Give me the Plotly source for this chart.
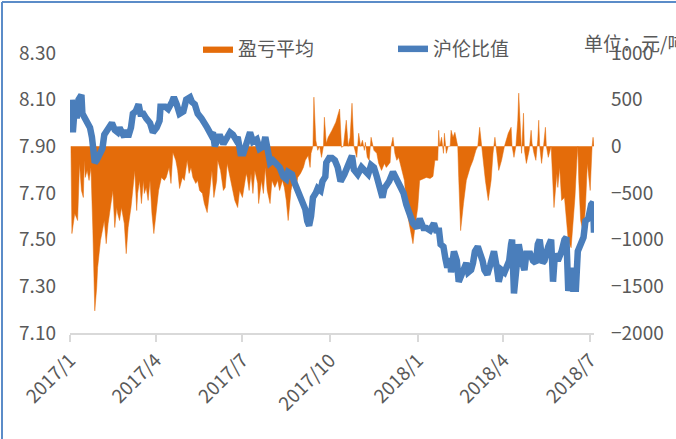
import plotly.graph_objects as go

# ---- data: 沪伦比值 (left axis) ----
ratio_dates = [
    "2017-01-03", "2017-01-04", "2017-01-06", "2017-01-08", "2017-01-10", "2017-01-13", "2017-01-14",
    "2017-01-17", "2017-01-20", "2017-01-22", "2017-01-24", "2017-01-27", "2017-01-29", "2017-02-01",
    "2017-02-04", "2017-02-06", "2017-02-08", "2017-02-12", "2017-02-14", "2017-02-17", "2017-02-20",
    "2017-02-22", "2017-02-25", "2017-02-27", "2017-03-01", "2017-03-03", "2017-03-06", "2017-03-08",
    "2017-03-11", "2017-03-14", "2017-03-16", "2017-03-19", "2017-03-22", "2017-03-26", "2017-03-29",
    "2017-04-02", "2017-04-05", "2017-04-06", "2017-04-11", "2017-04-14", "2017-04-18", "2017-04-20",
    "2017-04-23", "2017-04-26", "2017-04-30", "2017-05-03", "2017-05-07", "2017-05-09", "2017-05-12",
    "2017-05-15", "2017-05-19", "2017-05-23", "2017-05-25", "2017-05-29", "2017-05-31", "2017-06-02",
    "2017-06-05", "2017-06-07", "2017-06-11", "2017-06-14", "2017-06-18", "2017-06-21", "2017-06-24",
    "2017-06-26", "2017-06-29", "2017-07-02", "2017-07-04", "2017-07-07", "2017-07-09", "2017-07-12",
    "2017-07-16", "2017-07-19", "2017-07-23", "2017-07-25", "2017-07-27", "2017-07-30", "2017-08-02",
    "2017-08-06", "2017-08-09", "2017-08-13", "2017-08-16", "2017-08-18", "2017-08-22", "2017-08-24",
    "2017-08-27", "2017-08-30", "2017-09-03", "2017-09-05", "2017-09-07", "2017-09-09", "2017-09-11",
    "2017-09-13", "2017-09-16", "2017-09-18", "2017-09-21", "2017-09-23", "2017-09-26", "2017-09-27",
    "2017-09-30", "2017-10-03", "2017-10-06", "2017-10-09", "2017-10-12", "2017-10-16", "2017-10-22",
    "2017-10-24", "2017-10-26", "2017-10-30", "2017-11-03", "2017-11-06", "2017-11-10", "2017-11-13",
    "2017-11-16", "2017-11-19", "2017-11-22", "2017-11-25", "2017-11-27", "2017-12-02", "2017-12-06",
    "2017-12-10", "2017-12-13", "2017-12-17", "2017-12-20", "2017-12-24", "2017-12-27", "2017-12-31",
    "2018-01-03", "2018-01-07", "2018-01-10", "2018-01-14", "2018-01-16", "2018-01-18", "2018-01-21",
    "2018-01-23", "2018-01-25", "2018-01-28", "2018-01-30", "2018-02-01", "2018-02-04", "2018-02-05",
    "2018-02-08", "2018-02-11", "2018-02-13", "2018-02-16", "2018-02-19", "2018-02-21", "2018-02-23",
    "2018-02-26", "2018-02-28", "2018-03-02", "2018-03-05", "2018-03-07", "2018-03-10", "2018-03-12",
    "2018-03-15", "2018-03-18", "2018-03-20", "2018-03-22", "2018-03-25", "2018-03-27", "2018-03-30",
    "2018-04-02", "2018-04-04", "2018-04-07", "2018-04-09", "2018-04-10", "2018-04-12", "2018-04-15",
    "2018-04-17", "2018-04-20", "2018-04-23", "2018-04-25", "2018-04-29", "2018-05-02", "2018-05-05",
    "2018-05-07", "2018-05-09", "2018-05-12", "2018-05-14", "2018-05-18", "2018-05-21", "2018-05-23",
    "2018-05-25", "2018-05-28", "2018-06-01", "2018-06-04", "2018-06-06", "2018-06-08", "2018-06-11",
    "2018-06-13", "2018-06-16", "2018-06-18", "2018-06-21", "2018-06-24", "2018-06-26", "2018-06-29",
    "2018-07-02", "2018-07-04", "2018-07-05",
]
ratio_values = [
    8.10, 7.96, 8.07, 8.02, 8.10, 8.12, 8.04,
    8.02, 8.00, 7.98, 7.94, 7.83, 7.84, 7.86,
    7.89, 7.95, 7.96, 7.98, 8.00, 7.97, 7.96,
    7.98, 7.95, 7.94, 7.97, 7.94, 7.98, 8.04,
    8.05, 8.08, 8.04, 8.04, 8.02, 8.00, 7.96,
    7.98, 8.01, 8.07, 8.07, 8.06, 8.09, 8.11,
    8.08, 8.04, 8.05, 8.10, 8.11, 8.09, 8.08,
    8.04, 8.02, 8.00, 7.98, 7.95, 7.96, 7.90,
    7.93, 7.95, 7.91, 7.93, 7.96, 7.95, 7.93,
    7.94, 7.87, 7.87, 7.90, 7.95, 7.96, 7.92,
    7.93, 7.89, 7.90, 7.94, 7.88, 7.83, 7.84,
    7.82, 7.81, 7.77, 7.76, 7.79, 7.78, 7.75,
    7.72, 7.69, 7.65, 7.63, 7.58, 7.56, 7.60,
    7.68, 7.70, 7.72, 7.71, 7.75, 7.77, 7.83,
    7.85, 7.85, 7.84, 7.81, 7.75, 7.78, 7.84,
    7.86, 7.80, 7.78, 7.81, 7.80, 7.78, 7.82,
    7.81, 7.77, 7.71, 7.68, 7.72, 7.75, 7.79,
    7.76, 7.74, 7.70, 7.65, 7.59, 7.57, 7.55,
    7.59, 7.55, 7.55, 7.54, 7.55, 7.57, 7.53,
    7.55, 7.48, 7.47, 7.42, 7.38, 7.42, 7.36,
    7.45, 7.41, 7.32, 7.35, 7.38, 7.40, 7.36,
    7.37, 7.40, 7.45, 7.47, 7.45, 7.41, 7.37,
    7.35, 7.39, 7.44, 7.45, 7.38, 7.32, 7.37,
    7.36, 7.38, 7.41, 7.48, 7.50, 7.27, 7.41,
    7.48, 7.41, 7.37, 7.44, 7.44, 7.41, 7.40,
    7.48, 7.50, 7.40, 7.41, 7.47, 7.50, 7.32,
    7.44, 7.41, 7.45, 7.50, 7.51, 7.28, 7.38,
    7.29, 7.29, 7.45, 7.48, 7.51, 7.58, 7.59,
    7.65, 7.66, 7.53,
]

# ---- data: 盈亏平均 (right axis, 元/吨) ----
pnl_dates = [
    "2017-01-02", "2017-01-03", "2017-01-06", "2017-01-09", "2017-01-11", "2017-01-13", "2017-01-15",
    "2017-01-16", "2017-01-17", "2017-01-19", "2017-01-21", "2017-01-23", "2017-01-25", "2017-01-27",
    "2017-01-29", "2017-01-30", "2017-02-02", "2017-02-05", "2017-02-06", "2017-02-08", "2017-02-10",
    "2017-02-13", "2017-02-15", "2017-02-17", "2017-02-19", "2017-02-20", "2017-02-22", "2017-02-24",
    "2017-02-27", "2017-03-01", "2017-03-03", "2017-03-06", "2017-03-08", "2017-03-10", "2017-03-12",
    "2017-03-13", "2017-03-15", "2017-03-17", "2017-03-19", "2017-03-20", "2017-03-22", "2017-03-24",
    "2017-03-26", "2017-03-28", "2017-03-30", "2017-04-02", "2017-04-04", "2017-04-07", "2017-04-10",
    "2017-04-12", "2017-04-15", "2017-04-17", "2017-04-19", "2017-04-22", "2017-04-24", "2017-04-26",
    "2017-04-29", "2017-05-01", "2017-05-04", "2017-05-06", "2017-05-08", "2017-05-10", "2017-05-13",
    "2017-05-15", "2017-05-17", "2017-05-20", "2017-05-22", "2017-05-25", "2017-05-28", "2017-05-30",
    "2017-06-01", "2017-06-04", "2017-06-05", "2017-06-08", "2017-06-11", "2017-06-13", "2017-06-15",
    "2017-06-18", "2017-06-20", "2017-06-23", "2017-06-26", "2017-06-28", "2017-07-01", "2017-07-03",
    "2017-07-05", "2017-07-06", "2017-07-08", "2017-07-10", "2017-07-12", "2017-07-14", "2017-07-17",
    "2017-07-18", "2017-07-21", "2017-07-23", "2017-07-25", "2017-07-27", "2017-07-30", "2017-08-01",
    "2017-08-04", "2017-08-07", "2017-08-09", "2017-08-12", "2017-08-14", "2017-08-16", "2017-08-18",
    "2017-08-21", "2017-08-23", "2017-08-26", "2017-08-28", "2017-08-31", "2017-09-03", "2017-09-05",
    "2017-09-08", "2017-09-10", "2017-09-11", "2017-09-13", "2017-09-14", "2017-09-16", "2017-09-18",
    "2017-09-20", "2017-09-22", "2017-09-24", "2017-09-25", "2017-09-27", "2017-09-29", "2017-10-03",
    "2017-10-07", "2017-10-11", "2017-10-13", "2017-10-15", "2017-10-18", "2017-10-20", "2017-10-22",
    "2017-10-24", "2017-10-26", "2017-10-29", "2017-10-31", "2017-11-02", "2017-11-04", "2017-11-06",
    "2017-11-07", "2017-11-09", "2017-11-11", "2017-11-13", "2017-11-16", "2017-11-19", "2017-11-21",
    "2017-11-24", "2017-11-27", "2017-11-29", "2017-12-03", "2017-12-04", "2017-12-06", "2017-12-08",
    "2017-12-10", "2017-12-12", "2017-12-15", "2017-12-18", "2017-12-21", "2017-12-24", "2017-12-27",
    "2017-12-29", "2018-01-01", "2018-01-03", "2018-01-10", "2018-01-14", "2018-01-17", "2018-01-19",
    "2018-01-22", "2018-01-23", "2018-01-24", "2018-01-26", "2018-01-28", "2018-01-29", "2018-01-31",
    "2018-02-02", "2018-02-04", "2018-02-05", "2018-02-07", "2018-02-09", "2018-02-12", "2018-02-13",
    "2018-02-15", "2018-02-18", "2018-02-21", "2018-02-25", "2018-02-28", "2018-03-03", "2018-03-05",
    "2018-03-07", "2018-03-09", "2018-03-11", "2018-03-13", "2018-03-16", "2018-03-19", "2018-03-21",
    "2018-03-23", "2018-03-25", "2018-03-27", "2018-03-30", "2018-04-02", "2018-04-06", "2018-04-09",
    "2018-04-10", "2018-04-12", "2018-04-14", "2018-04-16", "2018-04-17", "2018-04-19", "2018-04-20",
    "2018-04-22", "2018-04-23", "2018-04-25", "2018-04-28", "2018-04-30", "2018-05-01", "2018-05-03",
    "2018-05-05", "2018-05-07", "2018-05-08", "2018-05-09", "2018-05-11", "2018-05-13", "2018-05-15",
    "2018-05-16", "2018-05-18", "2018-05-21", "2018-05-22", "2018-05-24", "2018-05-27", "2018-05-28",
    "2018-05-30", "2018-06-01", "2018-06-04", "2018-06-06", "2018-06-08", "2018-06-11", "2018-06-13",
    "2018-06-15", "2018-06-17", "2018-06-18", "2018-06-19", "2018-06-21", "2018-06-24", "2018-06-26",
    "2018-06-28", "2018-07-01", "2018-07-03", "2018-07-04", "2018-07-05",
]
pnl_values = [
    0, -935, -720, -795, -183, -473, -548,
    -150, -333, -258, -365, -226, -903, -1763,
    -1516, -1300, -1010, -870, -795, -1043, -828,
    -613, -473, -870, -656, -720, -795, -656,
    -828, -1150, -870, -656, -473, -258, -688,
    -505, -365, -613, -365, -505, -440, -580,
    -365, -720, -935, -613, -473, -333, -365,
    -333, -226, -398, -65, -150, -258, -452,
    -333, -365, -150, -290, -226, -333, -398,
    -365, -473, -505, -613, -710, -473, -258,
    -548, -365, -150, -258, -473, -440, -183,
    -333, -440, -580, -656, -473, -548, -398,
    -290, -333, -473, -290, -505, -258, -398,
    -613, -365, -505, -226, -473, -613, -365,
    -440, -365, -473, -365, -440, -580, -795,
    -473, -365, -473, -333, -290, -226, -150,
    -97, -226, -75, 0, 527, 65, -43,
    0, -118, 0, 312, 32, 97, 172,
    258, 400, -10, 0, 280, 0, 97,
    462, 0, -118, 140, 0, 65, -43,
    43, -118, -150, 97, -43, -75, -183,
    -258, -183, -226, -172, 0, 97, -75,
    -150, -118, -258, -365, -720, -903, -1043,
    -870, -656, -365, -333, -344, -322, -150,
    -150, 172, 0, 97, -75, 140, -75,
    0, 0, 172, 97, 150, 0, -333,
    -903, -613, -365, -226, -150, -43, 0,
    204, 0, -226, -365, -580, -365, -75,
    97, -75, -258, -150, 0, 140, 204,
    0, -118, 0, 280, 570, 0, -75,
    355, -43, -183, -43, 172, 32, -75,
    -150, 75, 280, 0, -183, 0, 204,
    0, -118, 0, -258, -656, -290, -440,
    -226, -580, -548, -828, -1010, -1086, -828,
    -548, -150, 0, -365, -795, -935, -656,
    -183, -473, 0, 97, 0,
]

# ---- axes / labels ----
left_ticks = [7.10, 7.30, 7.50, 7.70, 7.90, 8.10, 8.30]
right_ticks = [-2000, -1500, -1000, -500, 0, 500, 1000]
x_tick_dates = ["2017-01-01", "2017-04-01", "2017-07-01", "2017-10-01",
                "2018-01-01", "2018-04-01", "2018-07-01"]
x_tick_text = ["2017/1", "2017/4", "2017/7", "2017/10", "2018/1", "2018/4", "2018/7"]

ORANGE = "#E46C0A"
BLUE = "#4A7EBB"
GREY = "#595959"
FONT = "Noto Sans CJK SC"

fig = go.Figure()
fig.add_trace(go.Scatter(
    x=pnl_dates, y=pnl_values, name="盈亏平均", mode="lines",
    fill="tozeroy", fillcolor=ORANGE, line=dict(color=ORANGE, width=0.5),
    yaxis="y",
))
fig.add_trace(go.Scatter(
    x=ratio_dates, y=ratio_values, name="沪伦比值", mode="lines",
    line=dict(color=BLUE, width=6.5), yaxis="y2",
))

W, H = 676, 439
L, R, T, B = 70, 82, 53, 106
pw, ph = W - L - R, H - T - B

def px_x(p):
    return (p - L) / pw

def px_y(p):
    return (H - B - p) / ph

fig.update_layout(
    width=W, height=H,
    margin=dict(l=L, r=R, t=T, b=B, autoexpand=False),
    paper_bgcolor="white", plot_bgcolor="white",
    font=dict(family=FONT, size=19, color=GREY),
    showlegend=True,
    legend=dict(orientation="h", x=px_x(198), y=px_y(30), xanchor="left", yanchor="top",
                font=dict(size=19, color=GREY), bgcolor="rgba(0,0,0,0)",
                traceorder="normal", entrywidth=150),
    xaxis=dict(
        type="date", range=["2017-01-01", "2018-07-05"], automargin=False,
        tickvals=x_tick_dates, ticktext=x_tick_text, tickangle=-45,
        showgrid=False, zeroline=False,
        showline=True, linecolor="#D9D9D9", linewidth=1.5,
        ticks="outside", ticklen=7, tickcolor="#D9D9D9", tickwidth=1.5,
        tickfont=dict(size=19, color=GREY),
    ),
    yaxis=dict(
        side="right", range=[-2000, 1000], tickvals=right_ticks, automargin=False,
        showgrid=False, zeroline=False, showline=False,
        ticks="", ticklabelstandoff=16,
        tickfont=dict(size=19, color=GREY),
    ),
    yaxis2=dict(
        side="left", overlaying="y", range=[7.10, 8.30], tickvals=left_ticks, automargin=False,
        tickformat=".2f", showgrid=False, zeroline=False, showline=False,
        ticks="", ticklabelstandoff=13,
        tickfont=dict(size=19, color=GREY),
    ),
    annotations=[dict(
        text="单位：元/吨", xref="paper", yref="paper",
        x=px_x(582), y=px_y(43), xanchor="left", yanchor="middle",
        showarrow=False, font=dict(size=19, color=GREY),
    )],
    shapes=[
        dict(type="line", xref="paper", yref="paper",
             x0=px_x(2), x1=px_x(2), y0=px_y(445), y1=px_y(2),
             line=dict(color="#5B8CC8", width=2)),
        dict(type="line", xref="paper", yref="paper",
             x0=px_x(2), x1=px_x(690), y0=px_y(2), y1=px_y(2),
             line=dict(color="#5B8CC8", width=2)),
    ],
)

fig.write_html(
    "out.html",
    config={"displayModeBar": False},
    post_script="document.body.style.margin='0';document.body.style.overflow='hidden';",
)
